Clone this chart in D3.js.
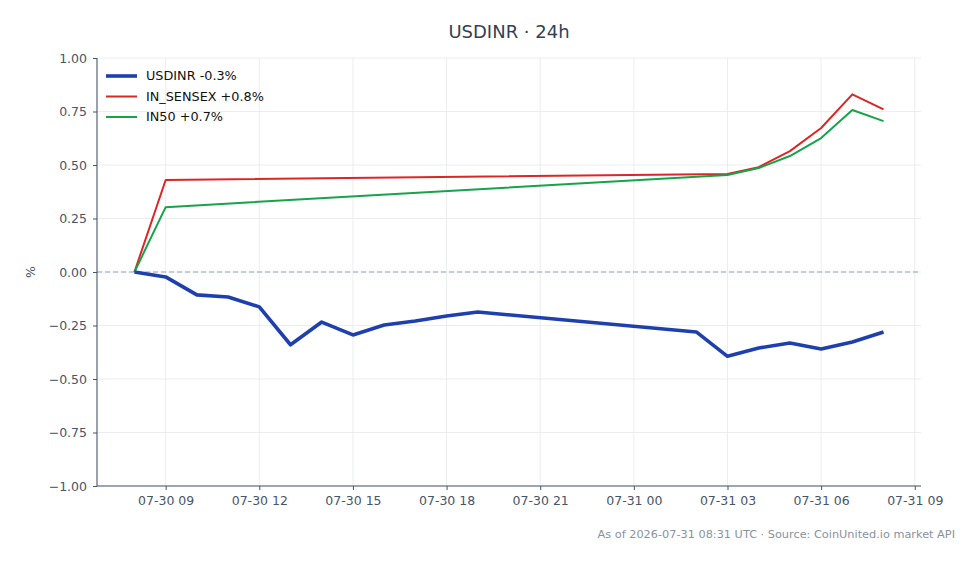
<!DOCTYPE html>
<html><head><meta charset="utf-8">
<script src="https://cdn.jsdelivr.net/npm/d3@7"></script>
<style>body{margin:0;background:#fff}svg{display:block;font-family:"DejaVu Sans",sans-serif}</style>
</head><body><svg id="c" width="978" height="564"></svg>
<script>
const usdTimes = ["2026-07-30T08:00Z","2026-07-30T09:00Z","2026-07-30T10:00Z","2026-07-30T11:00Z","2026-07-30T12:00Z","2026-07-30T13:00Z","2026-07-30T14:00Z","2026-07-30T15:00Z","2026-07-30T16:00Z","2026-07-30T17:00Z","2026-07-30T18:00Z","2026-07-30T19:00Z","2026-07-31T02:00Z","2026-07-31T03:00Z","2026-07-31T04:00Z","2026-07-31T05:00Z","2026-07-31T06:00Z","2026-07-31T07:00Z","2026-07-31T08:00Z"];
const usdValues = [0,-0.023,-0.107,-0.117,-0.163,-0.34,-0.234,-0.294,-0.248,-0.229,-0.206,-0.187,-0.28,-0.394,-0.355,-0.332,-0.36,-0.327,-0.28];
const idxTimes = ["2026-07-30T08:00Z","2026-07-30T09:00Z","2026-07-31T03:00Z","2026-07-31T04:00Z","2026-07-31T05:00Z","2026-07-31T06:00Z","2026-07-31T07:00Z","2026-07-31T08:00Z"];
const sensexValues = [0,0.43,0.458,0.49,0.565,0.673,0.83,0.76];
const in50Values = [0,0.303,0.453,0.486,0.542,0.626,0.757,0.705];
const seriesNames = ["USDINR -0.3%","IN_SENSEX +0.8%","IN50 +0.7%"];
const yTicks = [-1,-0.75,-0.5,-0.25,0,0.25,0.5,0.75,1];
const titleText = "USDINR · 24h";
const footerText = "As of 2026-07-31 08:31 UTC · Source: CoinUnited.io market API";

const svg = d3.select("#c");
const W=978,H=564, L=97,R=921,T=58,B=486;
const x = d3.scaleUtc().domain([new Date("2026-07-30T06:48Z"), new Date("2026-07-31T09:12Z")]).range([L,R]);
const y = d3.scaleLinear().domain([-1,1]).range([B,T]);
const xTicks = d3.utcHour.every(3).range(new Date("2026-07-30T09:00Z"), new Date("2026-07-31T09:01Z"));

// grid
svg.append("g").selectAll("line").data(xTicks).join("line")
  .attr("x1",d=>x(d)).attr("x2",d=>x(d)).attr("y1",T).attr("y2",B)
  .attr("stroke","#e6e9ee").attr("stroke-width",0.8);
svg.append("g").selectAll("line").data(yTicks).join("line")
  .attr("x1",L).attr("x2",R).attr("y1",d=>y(d)).attr("y2",d=>y(d))
  .attr("stroke","#e6e9ee").attr("stroke-width",0.8);
// zero line
svg.append("line").attr("x1",L).attr("x2",R).attr("y1",y(0)).attr("y2",y(0))
  .attr("stroke","#94a3b8").attr("stroke-width",1.1).attr("stroke-dasharray","5,3");

// axes
const fmt = d3.utcFormat("%m-%d %H");
const xa = svg.append("g").attr("transform",`translate(0,${B})`)
  .call(d3.axisBottom(x).tickValues(xTicks).tickFormat(fmt).tickSize(4).tickPadding(6));
const ya = svg.append("g").attr("transform",`translate(${L},0)`)
  .call(d3.axisLeft(y).tickValues(yTicks).tickFormat(d=>d3.format(".2f")(d).replace("-","\u2212")).tickSize(4).tickPadding(6));
[xa,ya].forEach(a=>{
  a.select(".domain").attr("stroke","#475569").attr("stroke-width",1.1);
  a.selectAll(".tick line").attr("stroke","#475569");
  a.selectAll("text").attr("fill","#475569").style("font-size","12.5px").style("font-family","DejaVu Sans");
});
xa.select(".domain").attr("d",`M${L},0H${R}`);
ya.select(".domain").attr("d",`M0,${T}V${B}`);

// lines
const line = d3.line().x(d=>x(d[0])).y(d=>y(d[1]));
const mk = (ts,vs)=>ts.map((t,i)=>[new Date(t),vs[i]]);
svg.append("path").datum(mk(idxTimes,sensexValues)).attr("d",line).attr("fill","none").attr("stroke","#dc2626").attr("stroke-width",2).attr("stroke-linejoin","round");
svg.append("path").datum(mk(idxTimes,in50Values)).attr("d",line).attr("fill","none").attr("stroke","#16a34a").attr("stroke-width",2).attr("stroke-linejoin","round");
svg.append("path").datum(mk(usdTimes,usdValues)).attr("d",line).attr("fill","none").attr("stroke","#1e40af").attr("stroke-width",3.6).attr("stroke-linejoin","round");

// legend
const colors=["#1e40af","#dc2626","#16a34a"], widths=[3.6,2,2];
const lg = svg.append("g").selectAll("g").data(seriesNames).join("g")
  .attr("transform",(d,i)=>`translate(106,${76+i*20.5})`);
lg.append("line").attr("x1",0).attr("x2",31).attr("stroke",(d,i)=>colors[i]).attr("stroke-width",(d,i)=>widths[i]);
lg.append("text").attr("x",40).attr("dy","0.35em").text(d=>d).attr("fill","#111").style("font-size","12.8px");

// title & labels
svg.append("text").attr("x",509).attr("y",38).attr("text-anchor","middle").attr("fill","#334155").style("font-size","18px").text(titleText);
svg.append("text").attr("transform","translate(35,272) rotate(-90)").attr("text-anchor","middle").attr("fill","#475569").style("font-size","12.5px").text("%");
svg.append("text").attr("x",955).attr("y",538).attr("text-anchor","end").attr("fill","#8792a2").style("font-size","11.3px").text(footerText);
</script></body></html>
